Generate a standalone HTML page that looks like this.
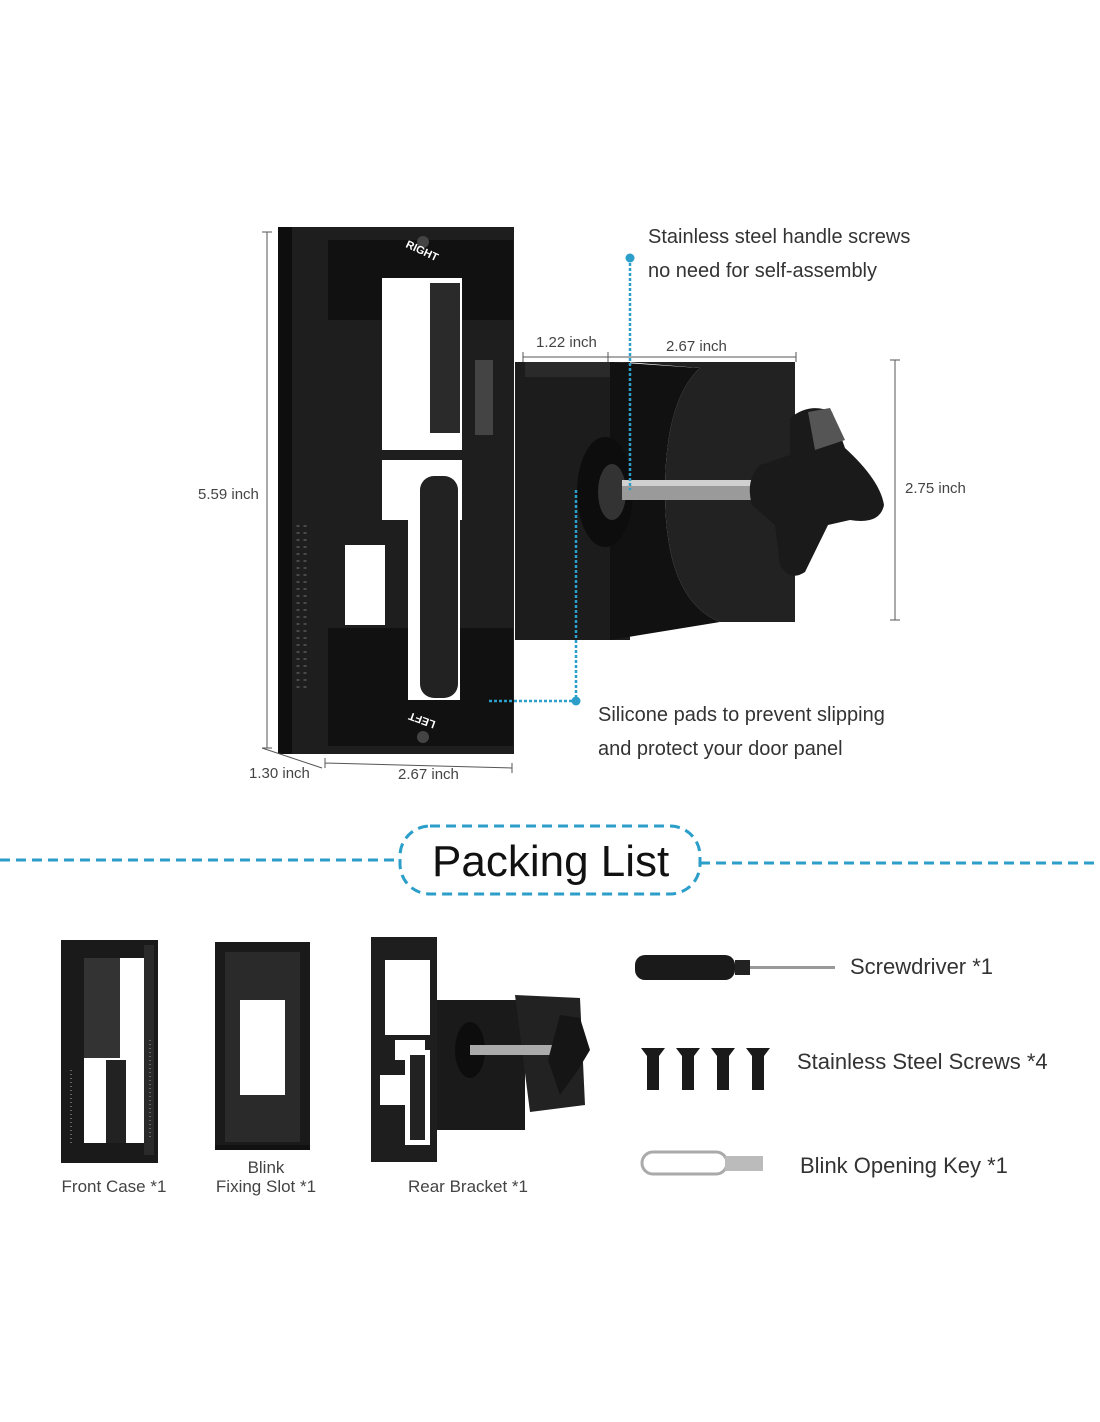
<!DOCTYPE html>
<html><head><meta charset="utf-8"><style>
html,body{margin:0;padding:0;background:#fff;}
svg{display:block;font-family:"Liberation Sans",sans-serif;}
</style></head><body>
<svg width="1100" height="1422" viewBox="0 0 1100 1422" xmlns="http://www.w3.org/2000/svg">
<rect width="1100" height="1422" fill="#fff"/>
<g>
  <rect x="515" y="362" width="115" height="278" fill="#1c1c1c"/>
  <rect x="525" y="362" width="100" height="15" fill="#2a2a2a"/>
  <path d="M625 362 L795 362 L795 622 L720 622 Q665 600 665 492 Q665 400 700 368 Z" fill="#222"/>
  <path d="M610 362 L700 368 Q665 400 665 492 Q665 600 720 622 L610 640 Z" fill="#111"/>
  <ellipse cx="605" cy="492" rx="28" ry="55" fill="#0d0d0d"/>
  <ellipse cx="612" cy="492" rx="14" ry="28" fill="#333"/>
  <rect x="622" y="480" width="140" height="20" fill="#9a9a9a"/>
  <rect x="622" y="480" width="140" height="6" fill="#d0d0d0"/>
  <path d="M790 418 Q810 402 832 412 L845 448 Q880 480 884 505 Q880 525 850 520 L828 525 L805 572 Q790 582 780 565 L775 525 L752 505 Q745 480 760 465 L790 455 Z" fill="#1a1a1a"/>
  <path d="M808 412 L830 408 L845 440 L815 450 Z" fill="#555"/>
  <rect x="278" y="227" width="236" height="527" fill="#1e1e1e"/>
  <rect x="278" y="227" width="14" height="527" fill="#0e0e0e"/>
  <rect x="328" y="240" width="185" height="80" fill="#111"/>
  <rect x="328" y="628" width="185" height="118" fill="#111"/>
  <rect x="382" y="278" width="80" height="172" fill="#fff"/>
  <rect x="430" y="283" width="30" height="150" fill="#2a2a2a"/>
  <rect x="382" y="460" width="80" height="60" fill="#fff"/>
  <rect x="345" y="545" width="40" height="80" fill="#fff"/>
  <rect x="408" y="470" width="52" height="230" fill="#fff"/>
  <rect x="420" y="476" width="38" height="222" rx="14" fill="#222"/>
  <rect x="475" y="360" width="18" height="75" fill="#444"/>
  <path d="M298 525 v165 M305 525 v165" stroke="#4a4a4a" stroke-width="3" stroke-dasharray="2 5"/>
  <circle cx="423" cy="242" r="6" fill="#444"/>
  <circle cx="423" cy="737" r="6" fill="#444"/>
  <text x="403" y="254" font-size="11" fill="#fff" font-weight="bold" transform="rotate(25 420 255)">RIGHT</text>
  <text x="405" y="728" font-size="11" fill="#fff" font-weight="bold" transform="rotate(200 420 722)">LEFT</text>
</g>
<g stroke="#555" stroke-width="1" fill="none">
  <path d="M267 232 V748 M262 232 H272 M262 748 H272"/>
  <path d="M895 360 V620 M890 360 H900 M890 620 H900"/>
  <path d="M523 357 H796 M523 352 V362 M608 352 V362 M796 352 V362"/>
  <path d="M325 763 L512 768 M325 758 V768 M512 763 V773"/>
  <path d="M262 748 L322 768"/>
</g>
<g fill="#444" font-size="15">
  <text x="198" y="499">5.59 inch</text>
  <text x="905" y="493">2.75 inch</text>
  <text x="536" y="347">1.22 inch</text>
  <text x="666" y="351">2.67 inch</text>
  <text x="249" y="778">1.30 inch</text>
  <text x="398" y="779">2.67 inch</text>
</g>
<g stroke="#2b9ec9" stroke-width="2.5" stroke-dasharray="3 2" fill="none">
  <path d="M630 258 V490"/>
  <path d="M576 490 V701 H487"/>
</g>
<circle cx="630" cy="258" r="4.5" fill="#2b9ec9"/>
<circle cx="576" cy="701" r="4.5" fill="#2b9ec9"/>
<g fill="#333" font-size="20">
  <text x="648" y="243">Stainless steel handle screws</text>
  <text x="648" y="277">no need for self-assembly</text>
  <text x="598" y="721">Silicone pads to prevent slipping</text>
  <text x="598" y="755">and protect your door panel</text>
</g>
<g stroke="#2b9ec9" stroke-width="3" stroke-dasharray="10 6" fill="none">
  <path d="M0 860 H400"/>
  <path d="M700 863 H1100"/>
  <rect x="400" y="826" width="300" height="68" rx="30"/>
</g>
<text x="432" y="876" font-size="44" fill="#111">Packing List</text>
<g>
  <path d="M61 940 L158 940 L158 1163 L61 1163 Z" fill="#1a1a1a"/>
  <rect x="84" y="958" width="60" height="185" fill="#fff"/>
  <rect x="84" y="958" width="36" height="100" fill="#333"/>
  <rect x="106" y="1060" width="20" height="83" fill="#222"/>
  <rect x="144" y="945" width="10" height="210" fill="#2a2a2a"/>
  <path d="M71 1070 v75 M150 1040 v100" stroke="#666" stroke-width="2" stroke-dasharray="1 3"/>
</g>
<g>
  <rect x="215" y="942" width="95" height="208" fill="#1a1a1a"/>
  <rect x="225" y="952" width="75" height="190" fill="#2a2a2a"/>
  <rect x="240" y="1000" width="45" height="95" fill="#fff"/>
  <rect x="215" y="1145" width="95" height="5" fill="#111"/>
</g>
<g>
  <rect x="435" y="1000" width="90" height="130" fill="#1a1a1a"/>
  <path d="M515 995 L580 998 L585 1105 L530 1112 Z" fill="#222"/>
  <ellipse cx="470" cy="1050" rx="15" ry="28" fill="#0d0d0d"/>
  <rect x="470" y="1045" width="90" height="10" fill="#aaa"/>
  <path d="M560 1015 L580 1018 L590 1050 L578 1070 L560 1095 L548 1060 Z" fill="#151515"/>
  <rect x="371" y="937" width="66" height="225" fill="#1e1e1e"/>
  <rect x="385" y="960" width="45" height="75" fill="#fff"/>
  <rect x="395" y="1040" width="30" height="20" fill="#fff"/>
  <rect x="380" y="1075" width="30" height="30" fill="#fff"/>
  <rect x="405" y="1050" width="25" height="95" fill="#fff"/>
  <rect x="410" y="1055" width="15" height="85" fill="#222"/>
</g>
<g fill="#444" font-size="17" text-anchor="middle">
  <text x="114" y="1192">Front Case *1</text>
  <text x="266" y="1173">Blink</text>
  <text x="266" y="1192">Fixing Slot *1</text>
  <text x="468" y="1192">Rear Bracket *1</text>
</g>
<g>
  <rect x="635" y="955" width="100" height="25" rx="10" fill="#1a1a1a"/>
  <rect x="735" y="960" width="15" height="15" fill="#222"/>
  <rect x="750" y="966" width="85" height="3" fill="#999"/>
</g>
<g fill="#1a1a1a">
  <path d="M641 1048 h24 l-6 8 v34 h-12 v-34 Z"/>
  <path d="M676 1048 h24 l-6 8 v34 h-12 v-34 Z"/>
  <path d="M711 1048 h24 l-6 8 v34 h-12 v-34 Z"/>
  <path d="M746 1048 h24 l-6 8 v34 h-12 v-34 Z"/>
</g>
<g>
  <rect x="642" y="1152" width="85" height="22" rx="11" fill="none" stroke="#aaa" stroke-width="3"/>
  <rect x="725" y="1156" width="38" height="15" fill="#bbb"/>
</g>
<g fill="#333" font-size="22">
  <text x="850" y="974">Screwdriver *1</text>
  <text x="797" y="1069">Stainless Steel Screws *4</text>
  <text x="800" y="1173">Blink Opening Key *1</text>
</g>
</svg>
</body></html>
